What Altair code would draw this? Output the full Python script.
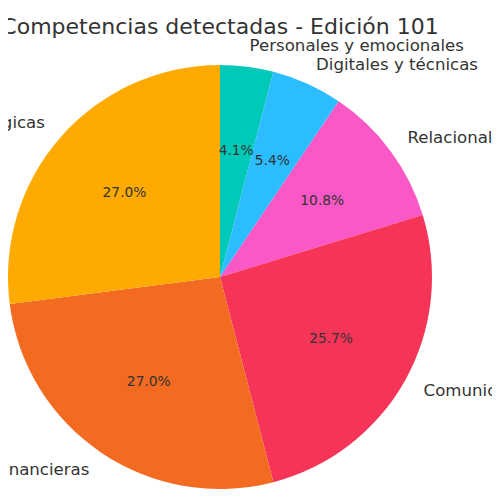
import altair as alt
import pandas as pd

labels = ["Personales y emocionales", "Digitales y técnicas", "Relacionales",
          "Comunicativas", "Financieras", "Estratégicas"]
counts = [3, 4, 8, 19, 20, 20]
colors = ["#00C9B7", "#2BBDFF", "#F958C6", "#F63457", "#F26B21", "#FFAA00"]
order_idx = [0, 1, 2, 3, 4, 5]
title_text = "Competencias detectadas - Edición 101"

df = pd.DataFrame({"label": labels, "count": counts, "idx": order_idx})

CX, CY, R = 212, 269, 212
FONT = "DejaVu Sans"

base = (
    alt.Chart(df)
    .transform_window(cum="sum(count)", sort=[alt.SortField("idx")], frame=[None, 0])
    .transform_joinaggregate(total="sum(count)")
    .transform_calculate(
        start="(datum.cum - datum.count) / datum.total * 2 * PI",
        end="datum.cum / datum.total * 2 * PI",
    )
    .transform_calculate(
        mid="(datum.start + datum.end) / 2",
        pct="format(datum.count / datum.total * 100, '.1f') + '%'",
    )
)

arcs = base.mark_arc(radius=R, strokeWidth=0).encode(
    theta=alt.Theta("start:Q", scale=None),
    theta2="end:Q",
    color=alt.Color("label:N", scale=alt.Scale(domain=labels, range=colors), legend=None),
    x=alt.value(CX),
    y=alt.value(CY),
)

pcts = base.mark_text(radius=0.6 * R, font=FONT, fontSize=13.8, color="#333333",
                      align="center", baseline="middle").encode(
    theta=alt.Theta("mid:Q", scale=None),
    text="pct:N",
    x=alt.value(CX),
    y=alt.value(CY),
)

right_labels = base.transform_filter("datum.mid < PI").mark_text(
    radius=1.1 * R, font=FONT, fontSize=16.6, color="#333333",
    align="left", baseline="middle").encode(
    theta=alt.Theta("mid:Q", scale=None),
    text="label:N",
    x=alt.value(CX),
    y=alt.value(CY),
)

left_labels = base.transform_filter("datum.mid >= PI").mark_text(
    radius=1.1 * R, font=FONT, fontSize=16.6, color="#333333",
    align="right", baseline="middle").encode(
    theta=alt.Theta("mid:Q", scale=None),
    text="label:N",
    x=alt.value(CX),
    y=alt.value(CY),
)

title = alt.Chart(pd.DataFrame({"t": [title_text]})).mark_text(
    font=FONT, fontSize=22, color="#333333", align="center", baseline="alphabetic"
).encode(text="t:N", x=alt.value(CX), y=alt.value(26))

chart = alt.layer(arcs, pcts, right_labels, left_labels, title).properties(
    width=484, height=484, padding=0, autosize=alt.AutoSizeParams(type="none")
).configure_view(stroke=None)

chart.save("out.html", embed_options={"renderer": "svg", "actions": False})
